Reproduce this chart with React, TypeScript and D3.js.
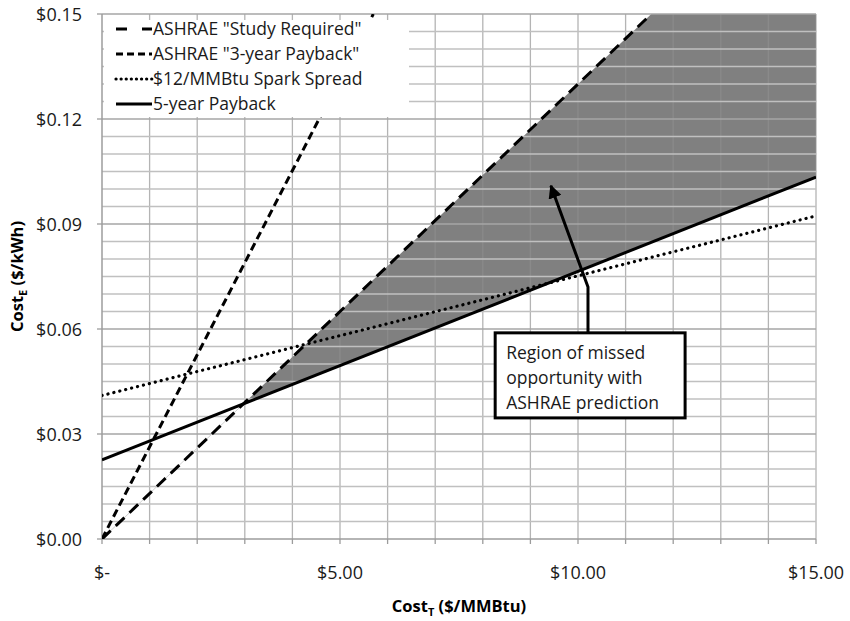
import React from "react";
import * as d3 from "d3";

// ---- data ----
const xTicks = [0, 5, 10, 15];
const xTickLabels = ["$-", "$5.00", "$10.00", "$15.00"];
const yTicks = [0, 0.03, 0.06, 0.09, 0.12, 0.15];
const yTickLabels = ["$0.00", "$0.03", "$0.06", "$0.09", "$0.12", "$0.15"];

const studyRequired = [
  { x: 0, y: 0 },
  { x: 11.54, y: 0.15 },
];
const threeYearPayback = [
  { x: 0, y: 0 },
  { x: 5.7, y: 0.15 },
];
const sparkSpread = [
  { x: 0, y: 0.041 },
  { x: 15, y: 0.0923 },
];
const fiveYearPayback = [
  { x: 0, y: 0.0226 },
  { x: 15, y: 0.1034 },
];
// region between "Study Required" and 5-year payback
const missedRegion = [
  { x: 2.97, y: 0.0386 },
  { x: 11.54, y: 0.15 },
  { x: 15, y: 0.15 },
  { x: 15, y: 0.1034 },
];
const regionEdge = [
  { x: 0, y: 0 },
  { x: 2.97, y: 0.0386 },
];

const legendItems = [
  { label: 'ASHRAE "Study Required"', dash: "11 15", cap: "butt" },
  { label: 'ASHRAE "3-year Payback"', dash: "7 4", cap: "butt" },
  { label: "$12/MMBtu Spark Spread", dash: "0.1 5", cap: "round" },
  { label: "5-year Payback", dash: "", cap: "butt" },
];

const annotationLines = ["Region of missed", "opportunity with", "ASHRAE prediction"];
const annotationBox = { x0: 8.26, x1: 12.25, y0: 0.0589, y1: 0.0346 };
const arrowPath = [
  { x: 10.21, y: 0.0589 },
  { x: 10.21, y: 0.072 },
  { x: 9.43, y: 0.1009 },
];

const FONT = "'Open Sans', 'Liberation Sans', sans-serif";

export default function App() {
  const W = 850;
  const H = 621;
  const left = 102;
  const right = 816;
  const top = 14;
  const bottom = 539;

  const x = d3.scaleLinear().domain([0, 15]).range([left, right]);
  const y = d3.scaleLinear().domain([0, 0.15]).range([bottom, top]);

  const line = d3
    .line<{ x: number; y: number }>()
    .x((d) => x(d.x))
    .y((d) => y(d.y));

  const vGrid = d3.range(1, 16);
  const hGrid = d3.range(1, 31).map((i) => i * 0.005);

  const regionPath = line(missedRegion) + "Z";

  return (
    <svg
      width={W}
      height={H}
      style={{ position: "absolute", left: 0, top: 0, background: "#fff" }}
      fontFamily={FONT}
    >
      <defs>
        <clipPath id="regionClip">
          <path d={regionPath} />
        </clipPath>
        <clipPath id="plotClip">
          <rect x={left} y={top} width={right - left} height={bottom - top} />
        </clipPath>
        <marker
          id="arrowHead"
          viewBox="0 0 10 10"
          refX="9"
          refY="5"
          markerWidth="4.5"
          markerHeight="4.5"
          orient="auto"
          markerUnits="strokeWidth"
        >
          <path d="M0,0 L10,5 L0,10 Z" fill="#000" />
        </marker>
      </defs>

      {/* vertical gridlines */}
      {vGrid.map((v) => (
        <line key={"v" + v} x1={x(v)} x2={x(v)} y1={top} y2={bottom} stroke="#b4b4b4" strokeWidth={1.3} />
      ))}

      {/* missed-opportunity region */}
      <path d={regionPath} fill="#808080" />
      <g clipPath="url(#regionClip)">
        {vGrid.map((v) => (
          <line key={"vc" + v} x1={x(v)} x2={x(v)} y1={top} y2={bottom} stroke="#8a8a8a" strokeWidth={1.3} />
        ))}
      </g>

      {/* horizontal gridlines */}
      {hGrid.map((v, i) => {
        const major = (i + 1) % 6 === 0;
        return (
          <line
            key={"h" + i}
            x1={left}
            x2={right}
            y1={y(v)}
            y2={y(v)}
            stroke={major ? "#a6a6a6" : "#c0c0c0"}
            strokeWidth={major ? 1.5 : 1.3}
          />
        );
      })}

      {/* axes */}
      <line x1={left} x2={right} y1={bottom} y2={bottom} stroke="#9c9c9c" strokeWidth={1.5} />
      <line x1={left} x2={left} y1={top} y2={bottom} stroke="#9c9c9c" strokeWidth={1.5} />
      {d3.range(0, 16).map((v) => (
        <line key={"xt" + v} x1={x(v)} x2={x(v)} y1={bottom} y2={bottom + 5} stroke="#9c9c9c" strokeWidth={1.3} />
      ))}
      {yTicks.map((v) => (
        <line key={"yt" + v} x1={left - 5} x2={left} y1={y(v)} y2={y(v)} stroke="#9c9c9c" strokeWidth={1.3} />
      ))}

      {/* series */}
      <g clipPath="url(#plotClip)" fill="none">
        <path d={line(regionEdge) || ""} stroke="#cfcfcf" strokeWidth={1} />
        <path d={line(studyRequired) || ""} stroke="#000" strokeWidth={3} strokeDasharray="12 7" />
        <path d={line(threeYearPayback) || ""} stroke="#000" strokeWidth={3} strokeDasharray="8 4.5" />
        <path
          d={line(sparkSpread) || ""}
          stroke="#000"
          strokeWidth={3.2}
          strokeDasharray="0.1 6"
          strokeLinecap="round"
        />
        <path d={line(fiveYearPayback) || ""} stroke="#000" strokeWidth={3} />
      </g>

      {/* legend */}
      <rect x={left + 2} y={20} width={305} height={97} fill="#fff" />
      {legendItems.map((it, i) => {
        const cy = 29 + i * 25;
        return (
          <g key={it.label}>
            <line
              x1={116}
              x2={152}
              y1={cy}
              y2={cy}
              stroke="#000"
              strokeWidth={3.2}
              strokeDasharray={it.dash || undefined}
              strokeLinecap={it.cap as any}
            />
            <text x={153} y={cy + 6} fontSize={17.5} fill="#1a1a1a">
              {it.label}
            </text>
          </g>
        );
      })}

      {/* annotation */}
      <path
        d={line(arrowPath) || ""}
        fill="none"
        stroke="#000"
        strokeWidth={3}
        markerEnd="url(#arrowHead)"
      />
      <rect
        x={x(annotationBox.x0)}
        y={y(annotationBox.y0)}
        width={x(annotationBox.x1) - x(annotationBox.x0)}
        height={y(annotationBox.y1) - y(annotationBox.y0)}
        fill="#fff"
        stroke="#000"
        strokeWidth={3}
      />
      {annotationLines.map((t, i) => (
        <text key={t} x={x(annotationBox.x0) + 11} y={y(annotationBox.y0) + 26 + i * 25} fontSize={17.5} fill="#1a1a1a">
          {t}
        </text>
      ))}

      {/* tick labels */}
      {yTicks.map((v, i) => (
        <text key={"yl" + v} x={82} y={y(v) + 6.5} fontSize={18} textAnchor="end" fill="#1a1a1a">
          {yTickLabels[i]}
        </text>
      ))}
      {xTicks.map((v, i) => (
        <text key={"xl" + v} x={x(v)} y={579} fontSize={18} textAnchor="middle" fill="#1a1a1a">
          {xTickLabels[i]}
        </text>
      ))}

      {/* axis titles */}
      <text x={(left + right) / 2} y={612} fontSize={16.5} fontWeight="bold" textAnchor="middle" fill="#000">
        Cost
        <tspan fontSize={11} dy={4}>T</tspan>
        <tspan dy={-4}> ($/MMBtu)</tspan>
      </text>
      <text
        transform={`translate(23, ${(top + bottom) / 2}) rotate(-90)`}
        fontSize={16.5}
        fontWeight="bold"
        textAnchor="middle"
        fill="#000"
      >
        Cost
        <tspan fontSize={11} dy={4}>E</tspan>
        <tspan dy={-4}> ($/kWh)</tspan>
      </text>
    </svg>
  );
}
